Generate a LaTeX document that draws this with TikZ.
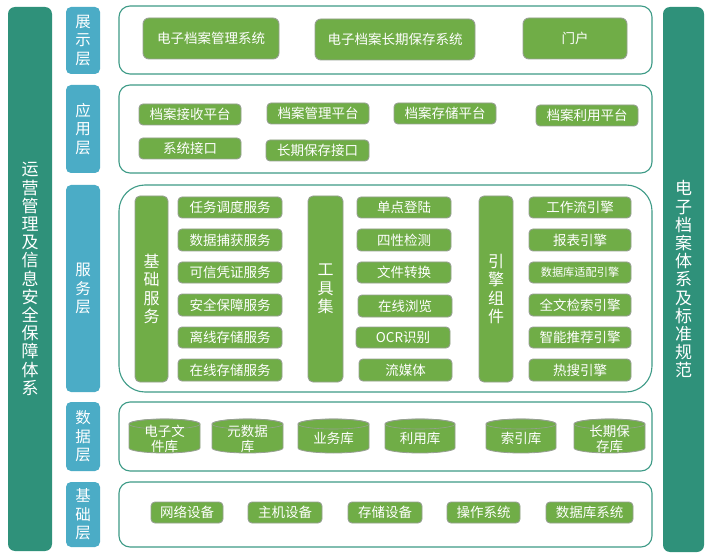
\documentclass[tikz,border=0pt]{standalone}
\usepackage{fontspec}
\setmainfont{Noto Sans CJK SC}
\definecolor{barc}{RGB}{47,145,122}
\definecolor{labc}{RGB}{75,172,198}
\definecolor{gboxc}{RGB}{112,173,71}
\definecolor{panc}{RGB}{62,155,135}
\definecolor{edgec}{RGB}{150,160,145}
\tikzset{
  gb/.style={fill=gboxc, draw=edgec, line width=0.9pt, rounded corners=4pt, text=white,
    font=\fontsize{13.5}{15}\selectfont, inner sep=0pt},
  tallbox/.style={fill=gboxc, draw=edgec, line width=0.9pt, rounded corners=5pt, text=white,
    font=\fontsize{16}{18.3}\selectfont, inner sep=0pt, align=center},
  labbox/.style={fill=labc, rounded corners=5pt, text=white,
    font=\fontsize{15.5}{18.5}\selectfont, inner sep=0pt, align=center},
  barbox/.style={fill=barc, rounded corners=7pt, text=white,
    font=\fontsize{17}{18.2}\selectfont, inner sep=0pt, align=center},
  panbox/.style={draw=panc, fill=white, line width=1.1pt, rounded corners=11pt, inner sep=0pt},
  cyltext/.style={text=white, font=\fontsize{13.5}{15}\selectfont, align=center, inner sep=0pt},
  cylfill/.style={fill=gboxc},
  cyledge/.style={draw=edgec, line width=0.8pt}
}
\newcommand\gbx[7][gb]{%
  \pgfmathsetmacro\bw{#5-#3}\pgfmathsetmacro\bh{#6-#4}%
  \pgfmathsetmacro\bcx{(#3+#5)/2}\pgfmathsetmacro\bcy{(#4+#6)/2}%
  \node[#1, minimum width=\bw pt, minimum height=\bh pt] (#2) at (\bcx,\bcy) {#7};}
\newcommand\cylnode[4]{%
  \pgfmathsetmacro\crx{(#3-#2)/2}\pgfmathsetmacro\ccx{(#2+#3)/2}%
  \path[cylfill] (#2,424) -- (#2,448) arc[start angle=180,end angle=0,x radius=\crx,y radius=5]
     -- (#3,424) arc[start angle=0,end angle=-180,x radius=\crx,y radius=5] -- cycle;
  \path[cyledge] (#2,424) -- (#2,448) arc[start angle=180,end angle=0,x radius=\crx,y radius=5]
     -- (#3,424) arc[start angle=0,end angle=-180,x radius=\crx,y radius=5] -- cycle;
  \draw[edgec, line width=0.6pt] (\ccx,424) ellipse[x radius=\crx, y radius=5];
  \node[cyltext] (#1) at (\ccx,438.5) {#4};}
\begin{document}
\begin{tikzpicture}[x=1pt,y=-1pt]
\useasboundingbox[fill=white] (0,0) rectangle (713,559);

% side bars
\gbx[barbox]{ops}{8}{7}{52}{551}{运\\营\\管\\理\\及\\信\\息\\安\\全\\保\\障\\体\\系}
\gbx[barbox]{std}{663}{7}{704}{552}{电\\子\\档\\案\\体\\系\\及\\标\\准\\规\\范}

% layer labels
\gbx[labbox]{lshow}{66}{7}{100}{74}{展\\示\\层}
\gbx[labbox]{lapp}{66}{85}{100}{173}{应\\用\\层}
\gbx[labbox]{lsvc}{66}{185}{100}{392}{服\\务\\层}
\gbx[labbox]{ldata}{66}{402}{100}{471}{数\\据\\层}
\gbx[labbox]{lbase}{66}{482}{100}{547}{基\\础\\层}

% panels
\gbx[panbox]{pshow}{119}{6}{652}{74}{}
\gbx[panbox]{papp}{119}{85}{652}{173}{}
\gbx[panbox,rounded corners=26pt]{psvc}{119}{185}{652}{392}{}
\gbx[panbox]{pdata}{119}{402}{652}{471}{}
\gbx[panbox]{pbase}{119}{482}{652}{547}{}

% display layer
\gbx[gb,rounded corners=6pt]{s1}{143}{18}{279}{59}{电子档案管理系统}
\gbx[gb,rounded corners=6pt]{s2}{315}{19}{475}{60}{电子档案长期保存系统}
\gbx[gb,rounded corners=6pt]{s3}{523}{18}{627}{59}{门户}

% application layer
\gbx{a1}{139}{104}{241}{125}{档案接收平台}
\gbx{a2}{267}{103}{369}{124}{档案管理平台}
\gbx{a3}{394}{103}{496}{124}{档案存储平台}
\gbx{a4}{536}{105}{638}{126}{档案利用平台}
\gbx{a5}{139}{138}{241}{159}{系统接口}
\gbx{a6}{266}{140}{369}{161}{长期保存接口}

% service layer
\gbx[tallbox]{t1}{135}{196}{168}{382}{基\\础\\服\\务}
\gbx[tallbox]{t2}{308}{196}{343}{382}{工\\具\\集}
\gbx[tallbox]{t3}{479}{196}{513}{382}{引\\擎\\组\\件}

\gbx{b1}{178}{197}{282}{218}{任务调度服务}
\gbx{b2}{178}{229}{282}{251}{数据捕获服务}
\gbx{b3}{178}{262}{282}{283}{可信凭证服务}
\gbx{b4}{178}{294}{282}{316}{安全保障服务}
\gbx{b5}{178}{327}{282}{348}{离线存储服务}
\gbx{b6}{178}{359}{282}{381}{在线存储服务}

\gbx{c1}{357}{197}{451}{218}{单点登陆}
\gbx{c2}{357}{229}{451}{251}{四性检测}
\gbx{c3}{357}{262}{451}{283}{文件转换}
\gbx{c4}{358}{295}{452}{317}{在线浏览}
\gbx{c5}{356}{327}{450}{348}{OCR识别}
\gbx{c6}{359}{359}{452}{381}{流媒体}

\gbx{e1}{529}{197}{631}{218}{工作流引擎}
\gbx{e2}{529}{229}{631}{251}{报表引擎}
\gbx[gb,font=\fontsize{11.2}{13}\selectfont]{e3}{529}{262}{631}{283}{数据库适配引擎}
\gbx{e4}{529}{294}{631}{316}{全文检索引擎}
\gbx{e5}{529}{327}{631}{348}{智能推荐引擎}
\gbx{e6}{529}{359}{631}{381}{热搜引擎}

% data layer
\cylnode{d1}{129}{200}{电子文\\件库}
\cylnode{d2}{212}{283}{元数据\\库}
\cylnode{d3}{298}{369}{业务库}
\cylnode{d4}{385}{455}{利用库}
\cylnode{d5}{486}{556}{索引库}
\cylnode{d6}{574}{645}{长期保\\存库}

% base layer
\gbx{f1}{151}{502}{223}{523}{网络设备}
\gbx{f2}{248}{502}{322}{523}{主机设备}
\gbx{f3}{348}{502}{422}{523}{存储设备}
\gbx{f4}{447}{502}{520}{523}{操作系统}
\gbx{f5}{546}{502}{633}{523}{数据库系统}
\end{tikzpicture}
\end{document}
